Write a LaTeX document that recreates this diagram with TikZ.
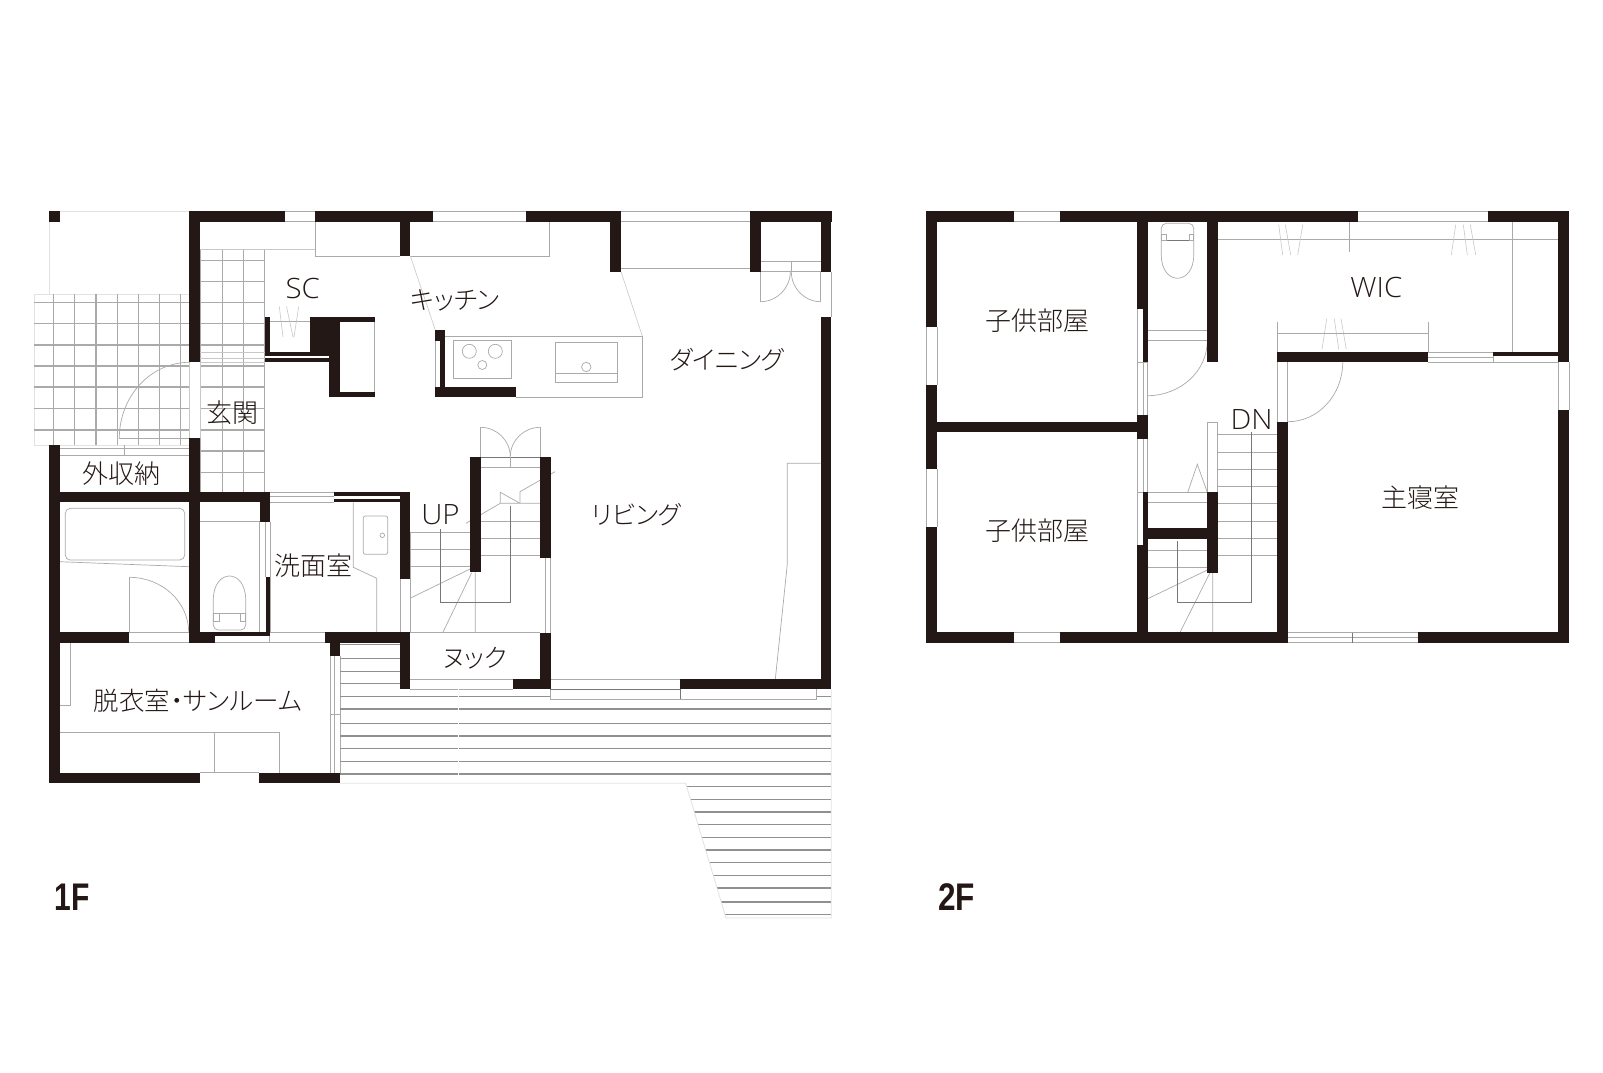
\documentclass[tikz,border=0pt]{standalone}
\usepackage{fontspec}
\usepackage{graphicx}
\newfontfamily\jpf{Noto Sans CJK JP Light}
\newfontfamily\jpk{Noto Sans CJK JP Light}[RawFeature=+palt]
\newfontfamily\lat{Open Sans Light}[FakeStretch=1.05]
\newfontfamily\flr{Liberation Sans}
\definecolor{wallc}{HTML}{231815}
\definecolor{ln}{HTML}{AAAAAA}
\definecolor{ln2}{HTML}{C8C8C8}
\definecolor{ln3}{HTML}{E2E2E2}
\definecolor{dk}{HTML}{777777}
\definecolor{dkb}{HTML}{909090}
\tikzset{
  wall/.style={fill=wallc},
  fine/.style={draw=ln,line width=0.7pt},
  faint/.style={draw=ln2,line width=0.6pt},
  pale/.style={draw=ln3,line width=0.8pt},
  dline/.style={draw=dk,line width=0.7pt},
  tile/.style={draw=ln,line width=1.1pt},
  tilebig/.style={draw=ln,line width=1.8pt},
  plank/.style={draw=dkb,line width=1.3pt},
  jplabel/.style={inner sep=0pt,text=wallc,font=\jpf\fontsize{26}{26}\selectfont},
  kanalabel/.style={inner sep=0pt,text=wallc,font=\jpk\fontsize{25.5}{25.5}\selectfont},
  latlabel/.style={inner sep=0pt,text=wallc,font=\lat\fontsize{28}{28}\selectfont},
  floorlabel/.style={inner sep=0pt,text=wallc,font=\flr\bfseries\fontsize{38.5}{38.5}\selectfont},
}
\newcommand\W[4]{\fill[wall] (#1,#2) rectangle (#3,#4);}
\newcommand\AV[4]{\draw[fine] (#1,#2) .. controls (#1,{#2+0.552*(#4-#2)}) and ({#3+0.552*(#1-#3)},#4) .. (#3,#4);}
\newcommand\Pl[2]{\draw[plank] (#1,#2) -- (831.3,#2);}
\begin{document}
\begin{tikzpicture}[x=1pt,y=-1pt]
\useasboundingbox (0,0) rectangle (1603,1073);
\fill[white] (0,0) rectangle (1603,1073);

%% ---------- 1F tiles
\draw[pale] (59.7,211.8) -- (189.3,211.8);
\draw[pale] (49.3,222) -- (49.3,294);
\draw[pale] (34.3,294) rectangle (189.3,445.3);
\foreach \x in {53.3,74.3,117.3,138.3,159.7,180.3} \draw[tile] (\x,294) -- (\x,445.3);
\draw[tilebig] (95.7,294) -- (95.7,445.3);
\foreach \y in {302.3,323.3,345,366,408.3,430} \draw[tile] (34.3,\y) -- (189.3,\y);
\draw[tilebig] (34.3,387.3) -- (189.3,387.3);
\foreach \x in {200.7,222.3,243.3,264.7} \draw[tile] (\x,249.3) -- (\x,492.7);
\foreach \y in {260.7,281.7,302.7,323.3,345,366,408.3,430,451,472.3} \draw[tile] (200.7,\y) -- (264.7,\y);
\draw[tilebig] (200.7,387.3) -- (264.7,387.3);
\draw[faint] (200,249.3) -- (315,249.3);
\foreach \y in {352.7,358,362} \draw[faint] (200,\y) -- (264.7,\y);
\draw[faint] (189.3,362) -- (189.3,438) (200,362) -- (200,438);

%% entrance door and outside store
\draw[fine] (119.3,438.3) -- (189.3,438.3);
\AV{119.3}{438.3}{189.3}{362.3}
\draw[fine] (59.7,448.3) -- (189.3,448.3) (59.7,455.7) -- (189.3,455.7) (124.3,445.3) -- (124.3,455.7);

%% top windows, cabinets
\draw[fine] (285,211.6) -- (315,211.6) (285,221.8) -- (315,221.8);
\draw[fine] (432.7,211.6) -- (526,211.6) (432.7,221.8) -- (526,221.8);
\draw[fine] (315,222) -- (315,256) -- (399.7,256) (410.3,256) -- (549.3,256) -- (549.3,222);
\draw[fine] (621,211.6) -- (750.3,211.6) (621,221.8) -- (750.3,221.8) (621,268.3) -- (750.3,268.3);
\draw[faint] (410.3,256) -- (435.3,330) (621,271.7) -- (642.3,336);
\draw[fine] (831.3,271.7) -- (831.3,316.7);
\draw[fine] (761,261.3) -- (820.7,261.3) (791.3,261.3) -- (791.3,271.7);
\draw[draw=ln,line width=1.2pt] (761,271.7) -- (820.7,271.7);
\draw[fine] (760.3,271.7) -- (760.3,301.7) (820.7,271.7) -- (820.7,301.7);
\AV{790.3}{271.7}{760.3}{301.7}
\AV{791.3}{271.7}{820.7}{301.7}

%% SC
\draw[fine] (270,321.5) -- (310,321.5) (374.7,322) -- (374.7,392);
\draw[faint] (279.3,306.5) -- (283,337) (286.5,306.5) -- (293,337) (298.7,306.5) -- (294,337);

%% kitchen
\draw[fine] (445,336) -- (642.7,336) -- (642.7,397.3) -- (515.7,397.3);
\draw[fine] (435,340.7) -- (435,387);
\draw[fine] (453.3,340.3) rectangle (511.7,378.7);
\draw[fine] (469.3,351.3) circle[radius=7] (495.3,351.3) circle[radius=7] (482.3,365) circle[radius=4.5];
\draw[fine] (555.3,342.3) rectangle (617.7,382.7) (555.3,373.3) -- (617.7,373.3);
\draw[fine] (586.3,367) circle[radius=4.7];

%% living
\draw[fine] (820.7,463.3) -- (787.3,463.3) -- (787.3,564.3) -- (775.3,679.3);

%% stair 1F
\draw[fine] (480.3,457) -- (480.3,427.3) (540.3,457) -- (540.3,427.3);
\AV{510.3}{456.7}{480.3}{427.3}
\AV{510.3}{456.7}{540.3}{427.3}
\draw[dline] (480.7,457) -- (540.3,457);
\draw[fine] (480.7,467) -- (540.3,467) (510.3,457) -- (510.3,467);
\draw[fine] (555,471.7) -- (520,491.7) -- (520,503.3);
\draw[fine] (500.3,503.3) -- (500.3,492.3) -- (520,503.3) -- (540.3,503.3) (500.3,503.3) -- (520,503.3);
\draw[fine] (500.3,503.3) -- (466,523.3);
\foreach \y in {521.3,538.3,555.3} \draw[fine] (480.3,\y) -- (540.3,\y);
\foreach \y in {532.3,549.3,566.7} \draw[fine] (410,\y) -- (470,\y);
\draw[fine] (410,532) -- (410,632.7);
\draw[fine] (410,598.3) -- (470,569) (442.7,632.7) -- (471.7,572.7) (475.3,572.3) -- (475.3,632.7);
\draw[dline] (440.3,529.3) -- (440.3,602.3) -- (510.3,602.3) -- (510.3,506);
\draw[fine] (410,632.7) -- (540.3,632.7);
\draw[fine] (545.7,557.7) -- (545.7,632.7) (550.3,557.7) -- (550.3,632.7);
\draw[fine] (410,679.3) -- (513,679.3) (410,689.3) -- (513,689.3);
\draw[fine] (550.3,679.3) -- (680.3,679.3);

%% bath
\draw[fine,rounded corners=5pt] (65.3,508.3) rectangle (184.7,560);
\draw[fine] (59.7,561.7) -- (189.3,566.7);
\draw[fine] (129.3,632.3) -- (129.3,577.3) (129.3,632.3) -- (189.3,632.3) (129.3,642.7) -- (189.3,642.7);
\AV{188.7}{632.3}{129.3}{577.3}

%% WC 1F
\draw[fine] (200,521.3) -- (259.7,521.3) (259.7,522) -- (259.7,632.3) (265,522.3) -- (265,577.3) (270,522.3) -- (270,632.3);
\draw[fine,rounded corners=5pt] (213.3,600) -- (213.3,630) -- (245.7,630) -- (245.7,600);
\draw[fine] (213.3,600) .. controls (213.3,568) and (245.7,568) .. (245.7,600);
\draw[fine] (219,613.7) -- (240,613.7) (213.3,613.7) rectangle (219,621) (240,613.7) rectangle (245.7,621);
\draw[fine] (214.7,642.7) -- (324.7,642.7) (270,632.3) -- (324.7,632.3) (269.3,632.3) -- (269.3,642.7);

%% wash room
\draw[fine] (270,492.6) -- (334.3,492.6) (270,496.7) -- (334.3,496.7) (270,502.3) -- (334.3,502.3);
\draw[fine] (353.3,502.3) -- (353.3,567.3) -- (376.7,578.3) -- (376.7,632.3);
\draw[fine,rounded corners=2pt] (363.3,516) rectangle (387.7,554.3);
\draw[fine] (382.3,535.3) circle[radius=2.3];
\draw[fine] (400,578.7) -- (400,632.3) (410,578.7) -- (410,632.3);

%% sun room
\draw[fine] (59.7,705.7) -- (70.7,705.7) -- (70.7,642.7);
\draw[fine] (59.7,732.3) -- (279.7,732.3) -- (279.7,772.7) (214.7,732.3) -- (214.7,772.7);
\draw[fine] (330,656) -- (330,772.7) (334.3,656) -- (334.3,772.7) (340,656) -- (340,772.7) (330,714.3) -- (340,714.3);
\draw[fine] (199.7,772.7) -- (259.3,772.7);

%% deck
\foreach \y in {644.7,658.3,671.7,683.7} \draw[plank] (340,\y) -- (399.7,\y);
\foreach \y in {696.7,709,723.3,736,748.7,761.7,774} \Pl{340}{\y}
\foreach \y in {786.7,799.3,812,824.7,837.3,850,862.7,875.3,888,902,914.7}
  \pgfmathsetmacro\xs{685.7+0.2992*(\y-783.3)}
  \Pl{\xs}{\y};
\draw[white,line width=0.7pt] (458.3,689.3) -- (458.3,783);
\draw[pale] (340,783.3) -- (685.7,783.3) -- (726,918) -- (831.3,918) -- (831.3,689.3);
\fill[white] (550.8,689.8) rectangle (816.3,699.3);
\draw[fine] (550.3,689.3) -- (550.3,699.3) -- (816.3,699.3) -- (816.3,689.3);
\draw[dline] (550.3,689.3) -- (680.3,689.3) (680.3,689.3) -- (680.3,699.3);

%% 1F walls
\W{49}{211.3}{59.7}{222}
\W{189.3}{211.3}{285}{222}
\W{315}{211.3}{432.7}{222}
\W{399.7}{211.3}{410.3}{256}
\W{189.3}{211.3}{200}{362.3}
\W{189.3}{438}{200}{642.7}
\W{49}{445.3}{59.7}{783.3}
\W{49}{492.4}{270}{502.4}
\W{259.7}{492.4}{270}{522.3}
\W{334.3}{492.4}{410.3}{495.7}
\W{334.3}{499}{410.3}{502.4}
\W{399.7}{492.4}{410.3}{578.7}
\W{49}{632.3}{129.3}{642.7}
\W{189.3}{632.3}{214.7}{642.7}
\W{265.7}{577.3}{270}{636}
\W{200}{632.3}{270}{636}
\W{324.7}{632.3}{410.3}{642.7}
\W{330}{642.7}{340}{656}
\W{399.7}{642.7}{410.3}{689.3}
\W{49}{772.7}{199.7}{783.3}
\W{259.3}{772.7}{340}{783.3}
%% SC walls
\W{264.7}{316.7}{270}{355.7}
\W{264.7}{352}{330}{355.7}
\W{264.7}{358.3}{330}{362}
\W{310}{316.7}{340}{352}
\W{340}{316.7}{375}{322}
\W{329.3}{316.7}{340}{397.3}
\W{340}{392}{375}{397.3}
%% kitchen walls
\W{435}{330.3}{445.3}{340.7}
\W{440}{340.7}{445.3}{387}
\W{435}{387}{515.7}{397.3}
\W{526}{211.3}{621}{222}
\W{610.3}{211.3}{621}{271.7}
\W{750.3}{211.3}{831.5}{222}
\W{750.3}{211.3}{761}{271.7}
\W{820.7}{211.3}{831.3}{271.7}
\W{820.7}{316.7}{831.3}{689.3}
%% stair walls
\W{470}{457}{480.5}{572.3}
\W{540.3}{457}{550.5}{557.7}
\W{540.3}{632.7}{550.5}{689.3}
\W{513}{679.3}{550.5}{689.3}
\W{680.3}{679.3}{831.3}{689.3}

%% ---------- 2F thin lines
\draw[fine] (1014,211.6) -- (1060.3,211.6) (1014,221.8) -- (1060.3,221.8);
\draw[fine] (1358.3,211.6) -- (1488,211.6) (1358.3,221.8) -- (1488,221.8);
\draw[fine] (1014,632.5) -- (1060.3,632.5) (1014,642.5) -- (1060.3,642.5);
\draw[fine] (926.5,327.3) -- (926.5,385.3) (937,327.3) -- (937,385.3);
\draw[fine] (926.5,468.7) -- (926.5,527.3) (937,468.7) -- (937,527.3);
\draw[fine] (1569,362.3) -- (1569,410) (1558.3,362.3) -- (1558.3,410);
\draw[fine] (1137.5,308.7) -- (1137.5,415.3) (1143.3,362.3) -- (1143.3,415.3) (1147.7,362.3) -- (1147.7,415.3) (1137.5,308.7) -- (1143.3,308.7) (1137.5,362.3) -- (1147.7,362.3);
\draw[fine] (1137.5,439) -- (1137.5,545.3) (1143.3,439) -- (1143.3,492.3) (1147.7,439) -- (1147.7,492.3) (1137.5,545.3) -- (1143.3,545.3) (1137.5,492.3) -- (1147.7,492.3);
%% WC 2F
\draw[fine,rounded corners=5pt] (1161.3,255) -- (1161.3,223.3) -- (1193.7,223.3) -- (1193.7,255);
\draw[fine] (1161.3,255) .. controls (1161.3,286) and (1193.7,286) .. (1193.7,255);
\draw[dline] (1161.3,240.3) -- (1193.7,240.3);
\draw[fine] (1161.3,234) rectangle (1166,240.3) (1189,234) rectangle (1193.7,240.3);
\draw[fine] (1147.7,330.3) -- (1207.3,330.3) (1147.7,340.3) -- (1207.3,340.3);
\AV{1207.3}{340.7}{1147.3}{395.7}
%% WIC
\draw[fine] (1217.7,239.3) -- (1558.3,239.3) (1349.3,222) -- (1349.3,251.7) (1512.3,222) -- (1512.3,352);
\draw[faint] (1278.7,224.7) -- (1282.7,255) (1285.3,224.7) -- (1290.7,255) (1302.7,224.7) -- (1297.7,255);
\draw[faint] (1455.7,224.7) -- (1451.3,255) (1463.3,224.7) -- (1467.3,255) (1470.3,224.7) -- (1475.7,255);
\draw[faint] (1326.7,318.7) -- (1322,349.3) (1334.3,318.7) -- (1338.7,349.3) (1341,318.7) -- (1346.3,349.3);
\draw[fine] (1277.3,322) -- (1277.3,352) (1428.3,322) -- (1428.3,352) (1277.3,333.3) -- (1428.3,333.3);
\draw[fine] (1428.3,352.3) -- (1493.3,352.3) (1428.3,357.5) -- (1493.3,357.5) (1428.3,362.3) -- (1558.3,362.3) (1493.3,352) -- (1493.3,362.3);
%% bedroom door
\draw[fine] (1277.3,362.3) -- (1277.3,422) (1287.3,362.3) -- (1287.3,422);
\AV{1342.7}{362.3}{1288}{421.7}
%% bottom window
\draw[fine] (1288,632.5) -- (1418,632.5) (1288,637) -- (1418,637) (1288,642.5) -- (1418,642.5);
\draw[dline] (1352.3,632.5) -- (1352.3,642.5);
%% stair 2F
\draw[fine] (1207.3,492.3) -- (1207.3,422.3) -- (1217.7,422.3) -- (1217.7,492.3);
\foreach \y in {434.3,452.3,469.3,486.3,503.3,521,538.3,555.7} \draw[fine] (1217.7,\y) -- (1277.3,\y);
\foreach \y in {492.3,502.3,550.3,567.3} \draw[fine] (1147.7,\y) -- (1207.3,\y);
\draw[fine] (1187.7,492.3) -- (1197.3,464.3) -- (1207.3,492.3);
\draw[fine] (1147.7,598.7) -- (1207.3,570) (1180,632.3) -- (1210,572.7) (1212.7,572.7) -- (1212.7,632.3);
\draw[dline] (1251.7,432.3) -- (1251.7,602.3) -- (1177.3,602.3) -- (1177.3,541);

%% 2F walls
\W{926.3}{211.3}{1014}{222}
\W{1060.3}{211.3}{1358.3}{222}
\W{1488}{211.3}{1569}{222}
\W{1558.3}{211.3}{1569}{362.3}
\W{1558.3}{410}{1569}{642.7}
\W{926.3}{211.3}{937}{327.3}
\W{926.3}{385.3}{937}{468.7}
\W{926.3}{527.3}{937}{642.7}
\W{926.3}{632.3}{1014}{642.7}
\W{1060.3}{632.3}{1288}{642.7}
\W{1418}{632.3}{1569}{642.7}
\W{926.3}{422}{1147.7}{432.3}
\W{1137.3}{211.3}{1147.7}{308.7}
\W{1143.3}{308.7}{1147.7}{362.3}
\W{1137.3}{415.3}{1147.7}{439}
\W{1143.3}{492.3}{1147.7}{545.3}
\W{1137.3}{545.3}{1147.7}{642.7}
\W{1207.3}{211.3}{1217.7}{362.3}
\W{1147.7}{528.3}{1207.3}{539}
\W{1207.3}{492.3}{1217.7}{572.7}
\W{1277.3}{422}{1288}{642.7}
\W{1277.3}{352}{1428.3}{362.3}
\W{1493.3}{352}{1558.3}{355.7}

%% ---------- labels
\node[latlabel] (sc) at (302.8,288) {SC};
\node[kanalabel] (kit) at (455,300) {キッチン};
\node[kanalabel] (din) at (727,360) {ダイニング};
\node[jplabel] (gen) at (232.5,412.3) {玄関};
\node[jplabel] (sto) at (121.8,473.3) {外収納};
\node[latlabel] (up) at (440.5,514.5) {UP};
\node[kanalabel] (liv) at (636.3,515) {リビング};
\node[jplabel] (was) at (313.5,565.7) {洗面室};
\node[kanalabel] (nok) at (475,658) {ヌック};
\node[kanalabel] (sun) at (198,700.3) {脱衣室・サンルーム};
\node[jplabel] (ch1) at (1037.3,321) {子供部屋};
\node[jplabel] (ch2) at (1037.3,530.7) {子供部屋};
\node[latlabel] (dn) at (1251.7,419.5) {DN};
\node[latlabel] (wic) at (1376.3,287.5) {WIC};
\node[jplabel] (mas) at (1420,497.3) {主寝室};
\node[floorlabel] (f1) at (72.3,897.5) {\scalebox{0.78}[1]{1F}};
\node[floorlabel] (f2) at (956.5,897.5) {\scalebox{0.82}[1]{2F}};
\end{tikzpicture}
\end{document}
